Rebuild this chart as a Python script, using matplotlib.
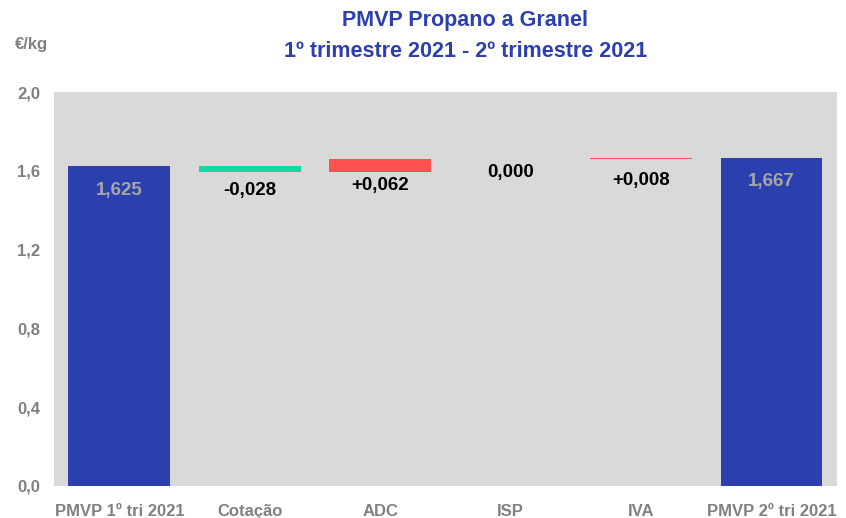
import matplotlib.pyplot as plt
import numpy as np

plt.rcParams['font.family'] = ['Liberation Sans', 'DejaVu Sans']

categories = ['PMVP 1º tri 2021', 'Cotação', 'ADC', 'ISP', 'IVA', 'PMVP 2º tri 2021']
start_value = 1.625
deltas = [-0.028, 0.062, 0.000, 0.008]
end_value = 1.667
yticks = [0.0, 0.4, 0.8, 1.2, 1.6, 2.0]

blue = '#2B3FAE'
green = '#12D99F'
red = '#FF5050'
grey_txt = '#808080'

# running totals for the floating bars
bottoms, heights, colors = [0.0], [start_value], [blue]
level = start_value
for d in deltas:
    new = level + d
    bottoms.append(min(level, new))
    heights.append(abs(d))
    colors.append(green if d < 0 else red)
    level = new
bottoms.append(0.0)
heights.append(end_value)
colors.append(blue)

fig = plt.figure(figsize=(8.46, 5.18), dpi=100)
ax = fig.add_axes([0.064, 0.062, 0.925, 0.760])
ax.set_facecolor('#D9D9D9')

x = np.arange(len(categories))
ax.bar(x, heights, bottom=bottoms, width=0.78, color=colors)

# labels: totals inside the blue bars, changes under the floating bars
ax.text(x[0], start_value - 0.125, '1,625', ha='center', va='center',
        color='#A6A6A6', fontsize=13.5, fontweight='bold')
ax.text(x[-1], end_value - 0.12, '1,667', ha='center', va='center',
        color='#A6A6A6', fontsize=13.5, fontweight='bold')
label_drop = [0.097, 0.07, 0.065, 0.11]
for i, d in enumerate(deltas):
    txt = ('%+.3f' % d).replace('.', ',') if d != 0 else '0,000'
    ax.text(x[i + 1], bottoms[i + 1] - label_drop[i], txt, ha='center', va='center',
            color='black', fontsize=13.5, fontweight='bold')

ax.set_xlim(-0.5, len(categories) - 0.5)
ax.set_ylim(0, 2.0)
ax.set_yticks(yticks)
ax.set_yticklabels([('%.1f' % t).replace('.', ',') for t in yticks],
                   color=grey_txt, fontsize=12, fontweight='bold')
ax.set_xticks(x)
ax.set_xticklabels(categories, color=grey_txt, fontsize=12, fontweight='bold')
ax.tick_params(length=0, pad=10)
ax.tick_params(axis='x', pad=13)
for s in ax.spines.values():
    s.set_visible(False)

fig.text(0.018, 0.905, '€/kg', color=grey_txt, fontsize=12, fontweight='bold')
fig.text(0.55, 0.96, 'PMVP Propano a Granel', ha='center', va='center',
         color='#2B3FAE', fontsize=15.5, fontweight='bold')
fig.text(0.55, 0.90, '1º trimestre 2021 - 2º trimestre 2021', ha='center', va='center',
         color='#2B3FAE', fontsize=15.5, fontweight='bold')

fig.savefig('out.png', dpi=100)
